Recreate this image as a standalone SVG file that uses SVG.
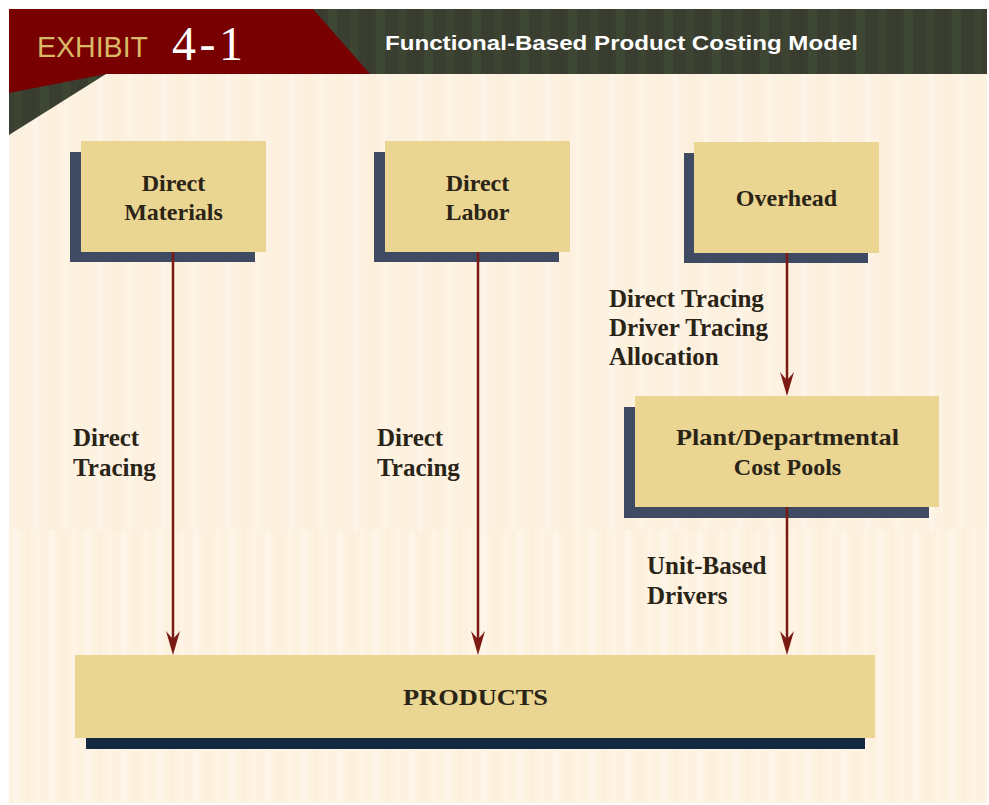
<svg xmlns="http://www.w3.org/2000/svg" width="989" height="805" viewBox="0 0 989 805">
  <defs>
    <pattern id="creamStripes" patternUnits="userSpaceOnUse" x="9" y="0" width="64" height="10">
      <rect width="64" height="10" fill="#fdf2e2"/>
      <rect x="6" width="9" height="10" fill="#fcf0de"/>
      <rect x="24" width="5" height="10" fill="#fef4e7"/>
      <rect x="38" width="11" height="10" fill="#fcefdc"/>
      <rect x="55" width="4" height="10" fill="#fef4e6"/>
    </pattern>
    <pattern id="creamStripesLow" patternUnits="userSpaceOnUse" x="9" y="0" width="36" height="10">
      <rect width="36" height="10" fill="#fdf1e0"/>
      <rect x="4" width="6" height="10" fill="#fef4e7"/>
      <rect x="17" width="4" height="10" fill="#fcefdb"/>
      <rect x="27" width="5" height="10" fill="#fef3e5"/>
    </pattern>
    <pattern id="darkStripes" patternUnits="userSpaceOnUse" x="9" y="0" width="48" height="10">
      <rect width="48" height="10" fill="#3a3e31"/>
      <rect x="5" width="8" height="10" fill="#3d4532"/>
      <rect x="22" width="4" height="10" fill="#373c2f"/>
      <rect x="31" width="9" height="10" fill="#3e4733"/>
    </pattern>
    <marker id="arrowHead" markerUnits="userSpaceOnUse" viewBox="0 -8 26 16" markerWidth="26" markerHeight="16" refX="9" refY="0" orient="auto">
      <path d="M24,0 L0,-7 Q5,-3 8,0 Q5,3 0,7 Z" fill="#7b1a12"/>
    </marker>
    <style>
      .shadow { fill: #3e4b62; }
      .box { fill: #ead593; }
      .boxText { font-family: "Liberation Serif", "Times New Roman", serif; font-weight: bold; font-size: 24px; fill: #2a2416; text-anchor: middle; }
      .label { font-family: "Liberation Serif", "Times New Roman", serif; font-weight: bold; font-size: 25px; fill: #2a2416; }
      .conn { stroke: #7b1a12; stroke-width: 2.5; fill: none; marker-end: url(#arrowHead); }
    </style>
  </defs>

  <!-- page background -->
  <rect width="989" height="805" fill="#ffffff"/>
  <rect x="9" y="9" width="978" height="794" fill="url(#creamStripes)"/>
  <rect x="9" y="530" width="978" height="273" fill="url(#creamStripesLow)"/>

  <!-- header band -->
  <g id="header">
    <rect x="9" y="9" width="978" height="65" fill="url(#darkStripes)"/>
    <polygon points="9,74 106,74 9,135" fill="url(#darkStripes)"/>
    <polygon points="9,9 313,9 370,74 106,74 9,93" fill="#780000"/>
    <text x="37" y="57" font-family="'Liberation Sans', Arial, sans-serif" font-size="30" fill="#d9b866" textLength="111" lengthAdjust="spacingAndGlyphs">EXHIBIT</text>
    <text x="172" y="60" font-family="'Liberation Serif', 'Times New Roman', serif" font-size="48" fill="#ffffff" textLength="71" lengthAdjust="spacing">4-1</text>
    <text x="385" y="50" font-family="'Liberation Sans', Arial, sans-serif" font-weight="bold" font-size="21" fill="#ffffff" textLength="473" lengthAdjust="spacingAndGlyphs">Functional-Based Product Costing Model</text>
  </g>

  <!-- cost elements -->
  <g id="direct-materials">
    <rect class="shadow" x="70" y="152" width="185" height="110"/>
    <rect class="box" x="81" y="141" width="185" height="111"/>
    <text class="boxText" x="173.5" y="191">Direct</text>
    <text class="boxText" x="173.5" y="220">Materials</text>
  </g>

  <g id="direct-labor">
    <rect class="shadow" x="374" y="152" width="185" height="110"/>
    <rect class="box" x="385" y="141" width="185" height="111"/>
    <text class="boxText" x="477.5" y="191">Direct</text>
    <text class="boxText" x="477.5" y="220">Labor</text>
  </g>

  <g id="overhead">
    <rect class="shadow" x="684" y="153" width="184" height="110"/>
    <rect class="box" x="694" y="142" width="185" height="111"/>
    <text class="boxText" x="786.5" y="206">Overhead</text>
  </g>

  <g id="cost-pools">
    <rect class="shadow" x="624" y="407" width="305" height="111"/>
    <rect class="box" x="635" y="396" width="304" height="111"/>
    <text class="boxText" x="787.5" y="445" textLength="223" lengthAdjust="spacingAndGlyphs">Plant/Departmental</text>
    <text class="boxText" x="787.5" y="475">Cost Pools</text>
  </g>

  <g id="products">
    <rect x="86" y="738" width="779" height="11" fill="#12293f"/>
    <rect class="box" x="75" y="655" width="800" height="83"/>
    <text class="boxText" x="475.5" y="705" textLength="145" lengthAdjust="spacingAndGlyphs">PRODUCTS</text>
  </g>

  <!-- flows -->
  <g id="connectors">
    <line class="conn" x1="173" y1="252" x2="173" y2="640"/>
    <line class="conn" x1="478" y1="252" x2="478" y2="640"/>
    <line class="conn" x1="787" y1="253" x2="787" y2="381"/>
    <line class="conn" x1="787" y1="507" x2="787" y2="640"/>
  </g>

  <!-- flow labels -->
  <g id="labels">
    <text class="label" x="73" y="446">Direct</text>
    <text class="label" x="73" y="476">Tracing</text>
    <text class="label" x="377" y="446">Direct</text>
    <text class="label" x="377" y="476">Tracing</text>
    <text class="label" x="609" y="307">Direct Tracing</text>
    <text class="label" x="609" y="336">Driver Tracing</text>
    <text class="label" x="609" y="365">Allocation</text>
    <text class="label" x="647" y="574">Unit-Based</text>
    <text class="label" x="647" y="604">Drivers</text>
  </g>
</svg>
